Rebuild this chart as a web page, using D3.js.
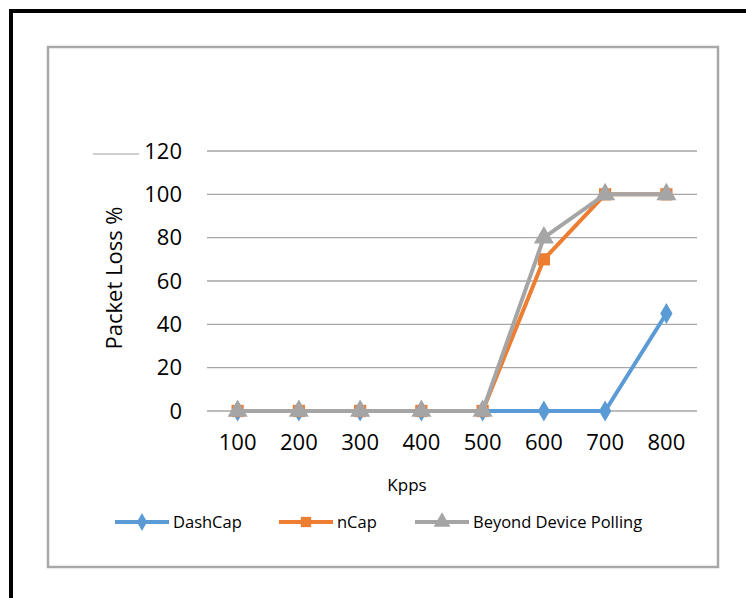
<!DOCTYPE html>
<html><head><meta charset="utf-8">
<script src="https://cdn.jsdelivr.net/npm/d3@7"></script>
<style>body{margin:0;background:#fff}svg{display:block}</style>
</head><body>
<svg id="c" width="746" height="598"></svg>
<script>
const categories = ["100","200","300","400","500","600","700","800"];
const dashCap = [0,0,0,0,0,0,0,45];
const nCap = [0,0,0,0,0,70,100,100];
const beyond = [0,0,0,0,0,80,100,100];
const yTicks = [0,20,40,60,80,100,120];
const seriesNames = ["DashCap","nCap","Beyond Device Polling"];
const colors = ["#5B9BD5","#ED7D31","#A5A5A5"];
const markers = [d3.symbolDiamond, d3.symbolSquare, d3.symbolTriangle];
const markerSizes = [130, 150, 175];

const svg = d3.select("#c");
const font = "'Open Sans', 'Liberation Sans', sans-serif";

// frames
svg.append("path").attr("d","M11,598 L11,11 L746,11").attr("fill","none").attr("stroke","#000").attr("stroke-width",4);
svg.append("rect").attr("x",48).attr("y",47).attr("width",670).attr("height",520)
  .attr("fill","none").attr("stroke","#a8a8a8").attr("stroke-width",2.5);

const x = d3.scaleBand().domain(categories).range([207,697]);
const y = d3.scaleLinear().domain([0,120]).range([411,151]);

// gridlines
const grid = svg.append("g");
grid.selectAll("line").data(yTicks).join("line")
  .attr("x1",207).attr("x2",697)
  .attr("y1",d=>y(d)).attr("y2",d=>y(d))
  .attr("stroke","#a6a6a6").attr("stroke-width",1.3);
// stray short line left of top label (as in reference)
svg.append("line").attr("x1",93).attr("x2",139).attr("y1",y(120)+3).attr("y2",y(120)+3)
  .attr("stroke","#a0a0a0").attr("stroke-width",1.2);

// y axis labels
const yAxis = d3.axisLeft(y).tickValues(yTicks).tickSize(0).tickPadding(0);
const gy = svg.append("g").attr("transform","translate(182,0)").call(yAxis);
gy.select(".domain").remove();
gy.selectAll("text").attr("font-family",font).attr("font-size",22).attr("fill","#000");

// x axis labels
const xAxis = d3.axisBottom(x).tickSize(0).tickPadding(0);
const gx = svg.append("g").attr("transform","translate(0,434)").call(xAxis);
gx.select(".domain").remove();
gx.selectAll("text").attr("font-family",font).attr("font-size",22).attr("fill","#000");

// axis titles
svg.append("text").attr("transform","translate(122,278) rotate(-90)")
  .attr("text-anchor","middle").attr("font-family",font).attr("font-size",22).attr("fill","#000")
  .text("Packet Loss %");
svg.append("text").attr("x",407).attr("y",491).attr("text-anchor","middle")
  .attr("font-family",font).attr("font-size",17).attr("fill","#000").text("Kpps");

// series
const allSeries = [dashCap, nCap, beyond];
const cx = c => x(c) + x.bandwidth()/2;
const line = d3.line().x((d,i)=>cx(categories[i])).y(d=>y(d));
allSeries.forEach((vals,si)=>{
  const g = svg.append("g");
  g.append("path").datum(vals).attr("d",line).attr("fill","none")
    .attr("stroke",colors[si]).attr("stroke-width",4).attr("stroke-linejoin","round");
  g.selectAll("path.m").data(vals).join("path").attr("class","m")
    .attr("transform",(d,i)=>`translate(${cx(categories[i])},${y(d)})`)
    .attr("d",d3.symbol().type(markers[si]).size(markerSizes[si]))
    .attr("fill",colors[si]);
});

// legend
const legendX = [115, 279, 415];
const legendY = 522;
seriesNames.forEach((name,i)=>{
  const lg = svg.append("g").attr("transform",`translate(${legendX[i]},${legendY})`);
  lg.append("line").attr("x1",0).attr("x2",54).attr("y1",0).attr("y2",0)
    .attr("stroke",colors[i]).attr("stroke-width",4);
  lg.append("path").attr("transform","translate(27,0)")
    .attr("d",d3.symbol().type(markers[i]).size(markerSizes[i]*0.7)).attr("fill",colors[i]);
  lg.append("text").attr("x",58).attr("y",0).attr("dy","0.35em")
    .attr("font-family",font).attr("font-size",16.5).attr("fill","#000").text(name);
});
</script>
</body></html>
